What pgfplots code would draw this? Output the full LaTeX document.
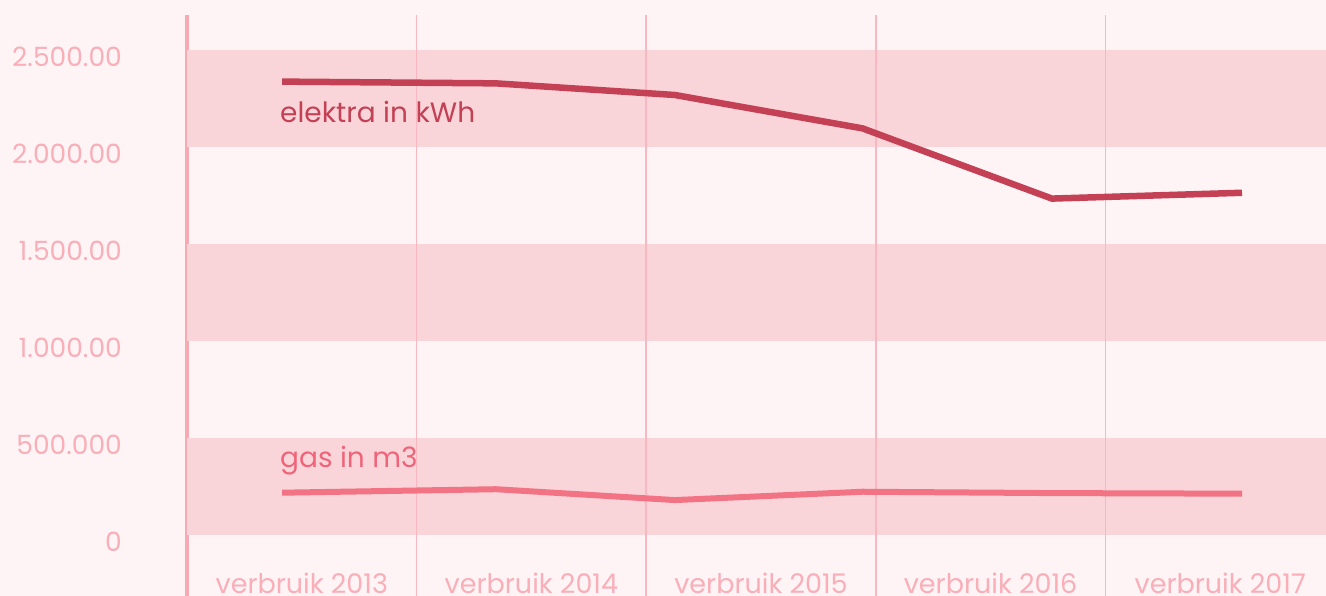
\documentclass[border=0pt]{standalone}
\usepackage{pgfplots}
\pgfplotsset{compat=1.18}
\usepackage{fontspec}
\setmainfont{Poppins}
\definecolor{bgc}{HTML}{FEF4F5}
\definecolor{bandc}{HTML}{F9D5DA}
\definecolor{gridc}{HTML}{F8B7C1}
\definecolor{axc}{HTML}{F7A9B4}
\definecolor{tickc}{HTML}{F9AEB8}
\definecolor{elc}{HTML}{C44054}
\definecolor{gasc}{HTML}{F27484}
\definecolor{gaslab}{HTML}{F0647A}
\begin{document}
\begin{tikzpicture}
\fill[bgc] (0,0) rectangle (1326pt,596pt);
\begin{scope}
\clip (0,0) rectangle (1326pt,596pt);
\begin{axis}[
  scale only axis,
  width=1148pt, height=581pt,
  at={(187pt,0pt)}, anchor=south west,
  xmin=0, xmax=5, ymin=-314.4, ymax=2680.4,
  axis x line*=bottom,
  axis y line*=left,
  x axis line style={draw=none},
  y axis line style={color=axc, line width=3.5pt},
  xtick={0.5,1.5,2.5,3.5,4.5},
  xticklabels={verbruik 2013,verbruik 2014,verbruik 2015,verbruik 2016,verbruik 2017},
  ytick={0,500,1000,1500,2000,2500},
  yticklabels={0,500.000,1.000.00,1.500.00,2.000.00,2.500.00},
  major tick length=0pt,
  yticklabel style={anchor=east, inner sep=0pt, xshift=-65pt, yshift=-6.5pt, text=tickc, font=\fontsize{26.5}{30}\selectfont},
  xticklabel style={anchor=base, yshift=2pt, text=tickc, font=\fontsize{27}{30}\selectfont},
  clip=false,
]
\fill[bandc] (axis cs:0,0) rectangle (axis cs:5,500);
\fill[bandc] (axis cs:0,1000) rectangle (axis cs:5,1500);
\fill[bandc] (axis cs:0,2000) rectangle (axis cs:5,2500);
\pgfplotsinvokeforeach{1,2,3,4}{
  \draw[gridc, line width=1.5pt] (axis cs:#1,-314.4) -- (axis cs:#1,2680.4);
}
\addplot[elc, line width=6.5pt, line join=round] coordinates {
(0.414,2337) (1.345,2328) (2.125,2268) (2.942,2096) (3.767,1734) (4.595,1764)};
\addplot[gasc, line width=6pt, line join=round] coordinates {
(0.414,218) (1.345,236) (2.125,180) (2.942,223) (3.767,216) (4.595,213)};
\node[anchor=west, inner sep=0pt, text=elc, font=\fontsize{28}{32}\selectfont] at (axis cs:0.405,2180) {elektra in kWh};
\node[anchor=west, inner sep=0pt, text=gaslab, font=\fontsize{28}{32}\selectfont] at (axis cs:0.405,381) {gas in m3};
\end{axis}
\end{scope}
\pgfresetboundingbox
\useasboundingbox (0,0) rectangle (1326pt,596pt);
\end{tikzpicture}
\end{document}
